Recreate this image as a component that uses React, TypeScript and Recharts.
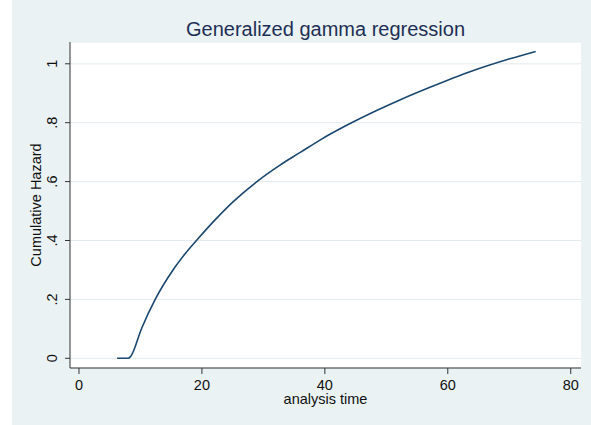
import { LineChart, Line, XAxis, YAxis, CartesianGrid } from "recharts"

// analysis time vs estimated cumulative hazard
const times = [6.2, 8.0, 8.4, 10.2, 12.4, 15.3, 17.2, 19.5, 22.1, 25.1, 28.7, 32.7, 36.0, 39.2, 44.1, 52.2, 57.1, 63.6, 70.1, 74.3]
const cumHaz = [0, 0, 0.006, 0.102, 0.2, 0.3, 0.353, 0.409, 0.469, 0.532, 0.596, 0.656, 0.699, 0.741, 0.797, 0.877, 0.92, 0.973, 1.017, 1.042]

const xTicks = [0, 20, 40, 60, 80]
const yTicks = [0, 0.2, 0.4, 0.6, 0.8, 1]

const data = times.map((t, i) => ({ t, h: cumHaz[i] }))

const font = "'Liberation Sans', Arial, Helvetica, sans-serif"
const bg = "#eaf2f3"

// stata style: 0, .2, .4 ... 1
function yLabel(v: number) {
  if (Math.abs(v) < 1e-9) return "0"
  if (Math.abs(v - 1) < 1e-9) return "1"
  return String(Math.round(v * 10) / 10).replace(/^0/, "")
}

function YTick(props: any) {
  const { x, y, payload } = props
  return (
    <text
      x={x}
      y={y}
      transform={`rotate(-90, ${x}, ${y})`}
      textAnchor="middle"
      fontSize={14.5}
      fontFamily={font}
      fill="#111"
    >
      {yLabel(payload.value)}
    </text>
  )
}

export default function App() {
  return (
    <div
      style={{
        position: "absolute",
        left: 0,
        top: 0,
        width: 591,
        height: 425,
        background: `linear-gradient(to right, #fff 12px, ${bg} 12px)`
      }}
    >
      <LineChart
        width={591}
        height={425}
        data={data}
        margin={{ top: 42, right: 10, bottom: 17, left: 12 }}
      >
        <CartesianGrid vertical={false} stroke="#e3ebee" fill="#fff" fillOpacity={1} />

        <XAxis
          dataKey="t"
          type="number"
          domain={[-1.46, 81.67]}
          ticks={xTicks}
          height={40}
          tickSize={6}
          tickMargin={6}
          stroke="#333"
          tick={{ fill: "#111", fontSize: 14.5, fontFamily: font }}
          label={{
            value: "analysis time",
            position: "insideBottom",
            offset: 4,
            style: { fill: "#111", fontSize: 14.5, fontFamily: font }
          }}
        />

        <YAxis
          type="number"
          domain={[-0.033, 1.074]}
          ticks={yTicks}
          width={58}
          tickSize={5}
          tickMargin={8}
          stroke="#333"
          tick={<YTick />}
          label={{
            value: "Cumulative Hazard",
            angle: -90,
            position: "insideLeft",
            offset: 24,
            style: { fill: "#111", fontSize: 14.5, fontFamily: font, textAnchor: "middle" }
          }}
        />

        <Line
          type="monotone"
          dataKey="h"
          stroke="#1a476f"
          strokeWidth={1.6}
          dot={false}
          isAnimationActive={false}
        />

        <text
          x={325.5}
          y={36}
          textAnchor="middle"
          fontSize={20}
          fontFamily={font}
          fill="#1e2f56"
        >
          Generalized gamma regression
        </text>
      </LineChart>
    </div>
  )
}
